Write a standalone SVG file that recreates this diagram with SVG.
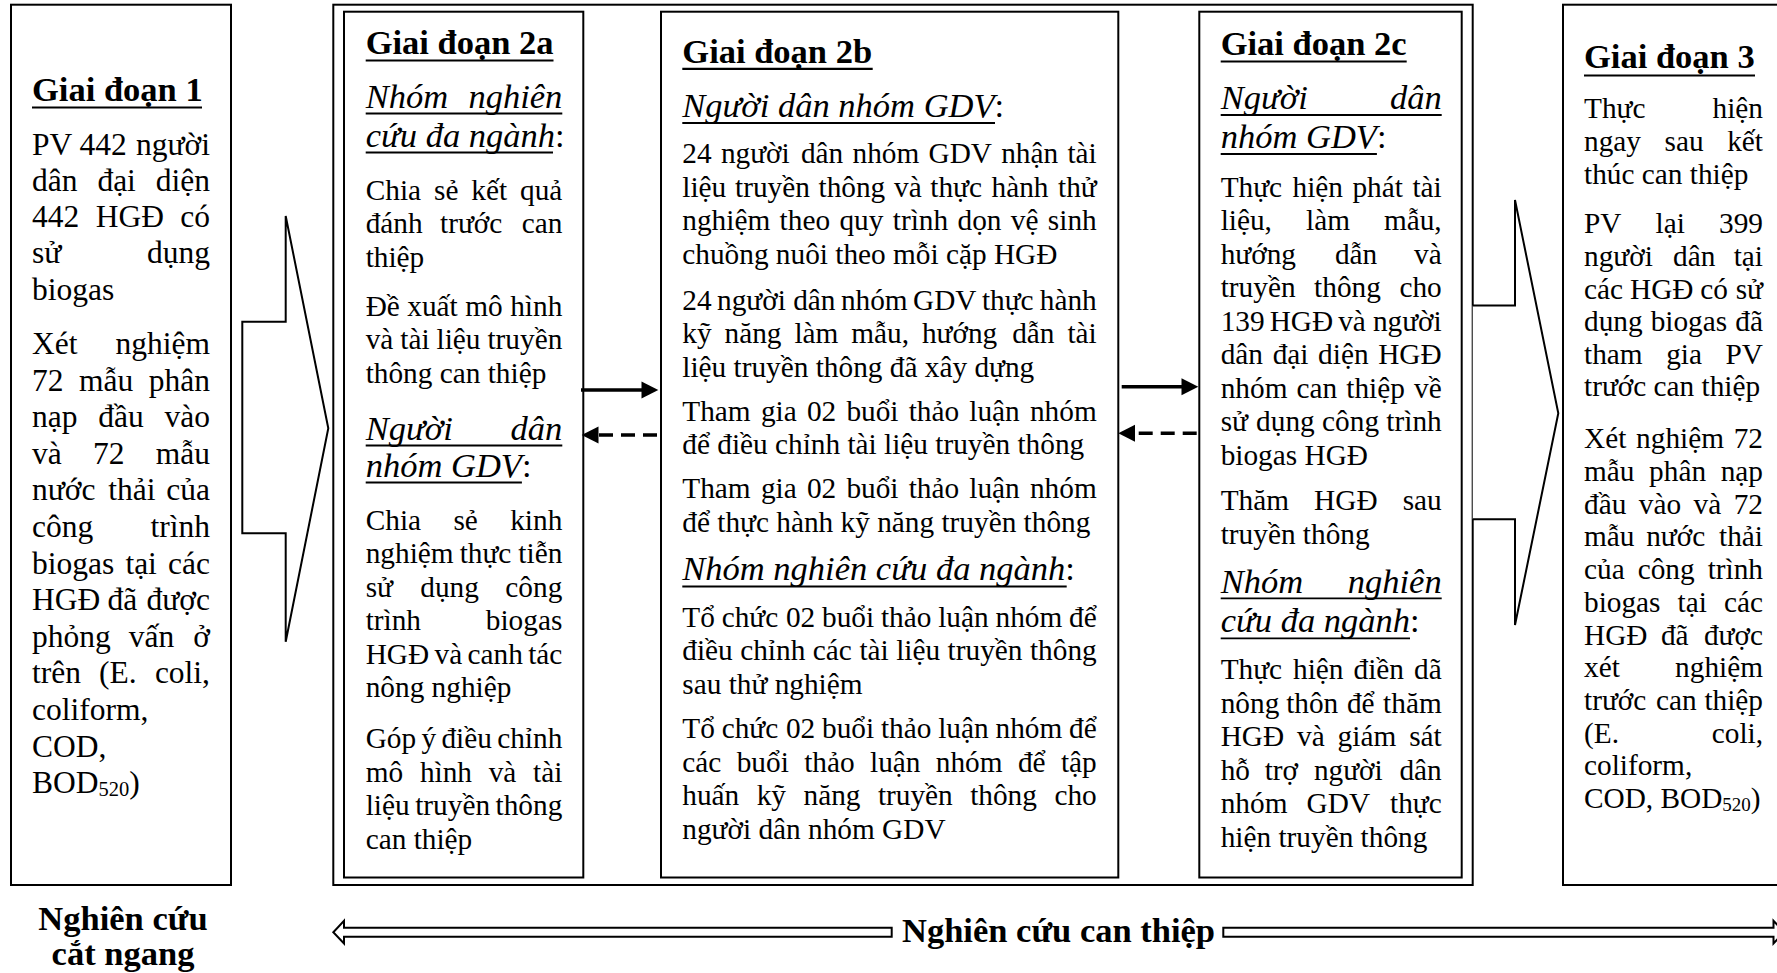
<svg xmlns="http://www.w3.org/2000/svg" width="1777" height="973" viewBox="0 0 1777 973">
  <style>
    text { font-family: "Liberation Serif", "Times New Roman", serif; fill: #000; }
    .b1 { font-size: 31.5px; }
    .b2 { font-size: 29.3px; }
    .h { font-size: 34.5px; font-weight: bold; }
    .i { font-size: 34.5px; font-style: italic; }
    .n { font-style: normal; }
    .e { text-anchor: end; }
    .c { text-anchor: middle; }
    .box { fill: #fff; stroke: #000; stroke-width: 2; }
    .ul { stroke: #000; stroke-width: 2.2; }
    .uli { stroke: #000; stroke-width: 1.8; }
    .blk { fill: #fff; stroke: #000; stroke-width: 2; stroke-linejoin: miter; }
    .sol { stroke: #000; stroke-width: 3.5; fill: none; }
    .dsh { stroke: #000; stroke-width: 3.5; fill: none; stroke-dasharray: 14 8; }
    .head { fill: #000; }
  </style>

  <!-- Stage 1: cross-sectional survey -->
  <g id="stage1">
    <rect class="box" x="11" y="4.7" width="220" height="880.3"/>
    <text class="h" x="32" y="101">Giai đoạn 1</text>
    <line class="ul" x1="32" y1="107.5" x2="202" y2="107.5"/>
    <g class="b1">
      <text y="154.5"><tspan x="32">PV</tspan><tspan x="79.4">442</tspan><tspan x="210" class="e">người</tspan></text>
      <text y="190.8"><tspan x="32">dân</tspan><tspan x="97.4">đại</tspan><tspan x="210" class="e">diện</tspan></text>
      <text y="227.1"><tspan x="32">442</tspan><tspan x="95.7">HGĐ</tspan><tspan x="210" class="e">có</tspan></text>
      <text y="263.4"><tspan x="32">sử</tspan><tspan x="210" class="e">dụng</tspan></text>
      <text y="299.7" x="32">biogas</text>
      <text y="354"><tspan x="32">Xét</tspan><tspan x="210" class="e">nghiệm</tspan></text>
      <text y="390.6"><tspan x="32">72</tspan><tspan x="79">mẫu</tspan><tspan x="210" class="e">phân</tspan></text>
      <text y="427.2"><tspan x="32">nạp</tspan><tspan x="98.3">đầu</tspan><tspan x="210" class="e">vào</tspan></text>
      <text y="463.8"><tspan x="32">và</tspan><tspan x="93">72</tspan><tspan x="210" class="e">mẫu</tspan></text>
      <text y="500.4"><tspan x="32">nước</tspan><tspan x="108.3">thải</tspan><tspan x="210" class="e">của</tspan></text>
      <text y="537"><tspan x="32">công</tspan><tspan x="210" class="e">trình</tspan></text>
      <text y="573.6"><tspan x="32">biogas</tspan><tspan x="125.4">tại</tspan><tspan x="210" class="e">các</tspan></text>
      <text y="610.2"><tspan x="32">HGĐ</tspan><tspan x="107.4">đã</tspan><tspan x="210" class="e">được</tspan></text>
      <text y="646.8"><tspan x="32">phỏng</tspan><tspan x="128.7">vấn</tspan><tspan x="210" class="e">ở</tspan></text>
      <text y="683.4"><tspan x="32">trên</tspan><tspan x="99.1">(E.</tspan><tspan x="210" class="e">coli,</tspan></text>
      <text y="720" x="32">coliform,</text>
      <text y="756.6" x="32">COD,</text>
      <text y="793.2" x="32">BOD<tspan font-size="20.5" dy="3">520</tspan><tspan dy="-3">)</tspan></text>
    </g>
  </g>

  <!-- Stage 2: intervention frame -->
  <g id="stage2">
    <rect class="box" x="333.3" y="4.7" width="1139.4" height="880.3"/>
  </g>

  <!-- Stage 2a -->
  <g id="stage2a">
    <rect class="box" x="344" y="11.7" width="239.3" height="865.8"/>
    <text class="h" x="365.7" y="54.3">Giai đoạn 2a</text>
    <line class="ul" x1="365.7" y1="60.5" x2="553.5" y2="60.5"/>
    <text class="i" y="108.3"><tspan x="365.7">Nhóm</tspan><tspan x="562.3" class="e">nghiên</tspan></text>
    <line class="uli" x1="365.7" y1="113.5" x2="562.3" y2="113.5"/>
    <text class="i" x="365.7" y="146.7">cứu đa ngành<tspan class="n">:</tspan></text>
    <line class="uli" x1="365.7" y1="152.5" x2="553" y2="152.5"/>
    <g class="b2">
      <text y="200"><tspan x="365.7">Chia</tspan><tspan x="434">sẻ</tspan><tspan x="471.3">kết</tspan><tspan x="562.3" class="e">quả</tspan></text>
      <text y="233.4"><tspan x="365.7">đánh</tspan><tspan x="440">trước</tspan><tspan x="562.3" class="e">can</tspan></text>
      <text y="266.8" x="365.7">thiệp</text>
      <text y="316"><tspan x="365.7">Đề</tspan><tspan x="407.3">xuất</tspan><tspan x="465.3">mô</tspan><tspan x="562.3" class="e">hình</tspan></text>
      <text y="349.4"><tspan x="365.7">và</tspan><tspan x="400.3">tài</tspan><tspan x="436.5">liệu</tspan><tspan x="562.3" class="e">truyền</tspan></text>
      <text y="382.8" x="365.7">thông can thiệp</text>
    </g>
    <text class="i" y="440"><tspan x="365.7">Người</tspan><tspan x="562.3" class="e">dân</tspan></text>
    <line class="uli" x1="365.7" y1="445.5" x2="562.3" y2="445.5"/>
    <text class="i" x="365.7" y="477">nhóm GDV<tspan class="n">:</tspan></text>
    <line class="uli" x1="365.7" y1="482.5" x2="521.9" y2="482.5"/>
    <g class="b2">
      <text y="530"><tspan x="365.7">Chia</tspan><tspan x="453.4">sẻ</tspan><tspan x="562.3" class="e">kinh</tspan></text>
      <text y="563.4"><tspan x="365.7">nghiệm</tspan><tspan x="459.7">thực</tspan><tspan x="562.3" class="e">tiễn</tspan></text>
      <text y="596.8"><tspan x="365.7">sử</tspan><tspan x="420.3">dụng</tspan><tspan x="562.3" class="e">công</tspan></text>
      <text y="630.2"><tspan x="365.7">trình</tspan><tspan x="562.3" class="e">biogas</tspan></text>
      <text y="663.6"><tspan x="365.7">HGĐ</tspan><tspan x="434.5">và</tspan><tspan x="467.5">canh</tspan><tspan x="562.3" class="e">tác</tspan></text>
      <text y="697" x="365.7">nông nghiệp</text>
      <text y="748.3"><tspan x="365.7">Góp</tspan><tspan x="421.5">ý</tspan><tspan x="441.4">điều</tspan><tspan x="562.3" class="e">chỉnh</tspan></text>
      <text y="781.7"><tspan x="365.7">mô</tspan><tspan x="419.9">hình</tspan><tspan x="488.7">và</tspan><tspan x="562.3" class="e">tài</tspan></text>
      <text y="815.1"><tspan x="365.7">liệu</tspan><tspan x="415.2">truyền</tspan><tspan x="562.3" class="e">thông</tspan></text>
      <text y="848.5" x="365.7">can thiệp</text>
    </g>
  </g>

  <!-- Stage 2b -->
  <g id="stage2b">
    <rect class="box" x="661" y="11.7" width="457.3" height="865.8"/>
    <text class="h" x="682.3" y="62.7">Giai đoạn 2b</text>
    <line class="ul" x1="682.3" y1="68.8" x2="872.7" y2="68.8"/>
    <text class="i" x="682.3" y="117.3">Người dân nhóm GDV<tspan class="n">:</tspan></text>
    <line class="uli" x1="682.3" y1="123" x2="995" y2="123"/>
    <g class="b2">
      <text y="163.3"><tspan x="682.3">24</tspan><tspan x="720.9">người</tspan><tspan x="800.9">dân</tspan><tspan x="852.5">nhóm</tspan><tspan x="928.5">GDV</tspan><tspan x="1001.2">nhận</tspan><tspan x="1096.7" class="e">tài</tspan></text>
      <text y="196.7"><tspan x="682.3">liệu</tspan><tspan x="735">truyền</tspan><tspan x="818.5">thông</tspan><tspan x="894">và</tspan><tspan x="930.3">thực</tspan><tspan x="991.5">hành</tspan><tspan x="1096.7" class="e">thử</tspan></text>
      <text y="230.1"><tspan x="682.3">nghiệm</tspan><tspan x="779.6">theo</tspan><tspan x="839.4">quy</tspan><tspan x="892.8">trình</tspan><tspan x="957.5">dọn</tspan><tspan x="1010.8">vệ</tspan><tspan x="1096.7" class="e">sinh</tspan></text>
      <text y="263.5" x="682.3">chuồng nuôi theo mỗi cặp HGĐ</text>
      <text y="310"><tspan x="682.3">24</tspan><tspan x="717">người</tspan><tspan x="793.2">dân</tspan><tspan x="840.9">nhóm</tspan><tspan x="913">GDV</tspan><tspan x="981.9">thực</tspan><tspan x="1096.7" class="e">hành</tspan></text>
      <text y="343.4"><tspan x="682.3">kỹ</tspan><tspan x="724.5">năng</tspan><tspan x="794.4">làm</tspan><tspan x="851.2">mẫu,</tspan><tspan x="921.9">hướng</tspan><tspan x="1012.2">dẫn</tspan><tspan x="1096.7" class="e">tài</tspan></text>
      <text y="376.8" x="682.3">liệu truyền thông đã xây dựng</text>
      <text y="420.7"><tspan x="682.3">Tham</tspan><tspan x="760.9">gia</tspan><tspan x="806.9">02</tspan><tspan x="846.4">buổi</tspan><tspan x="908.7">thảo</tspan><tspan x="969.3">luận</tspan><tspan x="1096.7" class="e">nhóm</tspan></text>
      <text y="454.1" x="682.3">để điều chỉnh tài liệu truyền thông</text>
      <text y="498.3"><tspan x="682.3">Tham</tspan><tspan x="760.9">gia</tspan><tspan x="806.9">02</tspan><tspan x="846.4">buổi</tspan><tspan x="908.7">thảo</tspan><tspan x="969.3">luận</tspan><tspan x="1096.7" class="e">nhóm</tspan></text>
      <text y="531.7" x="682.3">để thực hành kỹ năng truyền thông</text>
    </g>
    <text class="i" x="682.3" y="580">Nhóm nghiên cứu đa ngành<tspan class="n">:</tspan></text>
    <line class="uli" x1="682.3" y1="586.5" x2="1066.7" y2="586.5"/>
    <g class="b2">
      <text y="626.7"><tspan x="682.3">Tổ</tspan><tspan x="721.7">chức</tspan><tspan x="785.9">02</tspan><tspan x="822">buổi</tspan><tspan x="880.9">thảo</tspan><tspan x="938.2">luận</tspan><tspan x="995.5">nhóm</tspan><tspan x="1096.7" class="e">để</tspan></text>
      <text y="660.1"><tspan x="682.3">điều</tspan><tspan x="740.2">chỉnh</tspan><tspan x="812.8">các</tspan><tspan x="859.4">tài</tspan><tspan x="896.2">liệu</tspan><tspan x="947.6">truyền</tspan><tspan x="1096.7" class="e">thông</tspan></text>
      <text y="693.5" x="682.3">sau thử nghiệm</text>
      <text y="738.3"><tspan x="682.3">Tổ</tspan><tspan x="721.7">chức</tspan><tspan x="785.9">02</tspan><tspan x="822">buổi</tspan><tspan x="880.9">thảo</tspan><tspan x="938.2">luận</tspan><tspan x="995.5">nhóm</tspan><tspan x="1096.7" class="e">để</tspan></text>
      <text y="771.7"><tspan x="682.3">các</tspan><tspan x="736.7">buổi</tspan><tspan x="804.2">thảo</tspan><tspan x="870">luận</tspan><tspan x="935.8">nhóm</tspan><tspan x="1017.9">để</tspan><tspan x="1096.7" class="e">tập</tspan></text>
      <text y="805.1"><tspan x="682.3">huấn</tspan><tspan x="756.7">kỹ</tspan><tspan x="803.5">năng</tspan><tspan x="877.9">truyền</tspan><tspan x="970.2">thông</tspan><tspan x="1096.7" class="e">cho</tspan></text>
      <text y="838.5" x="682.3">người dân nhóm GDV</text>
    </g>
  </g>

  <!-- Stage 2c -->
  <g id="stage2c">
    <rect class="box" x="1199.3" y="11.7" width="262.4" height="865.8"/>
    <text class="h" x="1220.7" y="55">Giai đoạn 2c</text>
    <line class="ul" x1="1220.7" y1="61.5" x2="1406.7" y2="61.5"/>
    <text class="i" y="109.3"><tspan x="1220.7">Người</tspan><tspan x="1441.7" class="e">dân</tspan></text>
    <line class="uli" x1="1220.7" y1="115" x2="1441.7" y2="115"/>
    <text class="i" x="1220.7" y="148.3">nhóm GDV<tspan class="n">:</tspan></text>
    <line class="uli" x1="1220.7" y1="154" x2="1376.9" y2="154"/>
    <g class="b2">
      <text y="196.7"><tspan x="1220.7">Thực</tspan><tspan x="1292.5">hiện</tspan><tspan x="1352.4">phát</tspan><tspan x="1441.7" class="e">tài</tspan></text>
      <text y="230.2"><tspan x="1220.7">liệu,</tspan><tspan x="1306">làm</tspan><tspan x="1441.7" class="e">mẫu,</tspan></text>
      <text y="263.7"><tspan x="1220.7">hướng</tspan><tspan x="1334.9">dẫn</tspan><tspan x="1441.7" class="e">và</tspan></text>
      <text y="297.2"><tspan x="1220.7">truyền</tspan><tspan x="1314.1">thông</tspan><tspan x="1441.7" class="e">cho</tspan></text>
      <text y="330.7"><tspan x="1220.7">139</tspan><tspan x="1269.7">HGĐ</tspan><tspan x="1338.2">và</tspan><tspan x="1441.7" class="e">người</tspan></text>
      <text y="364.2"><tspan x="1220.7">dân</tspan><tspan x="1272.7">đại</tspan><tspan x="1318.1">diện</tspan><tspan x="1441.7" class="e">HGĐ</tspan></text>
      <text y="397.7"><tspan x="1220.7">nhóm</tspan><tspan x="1296.6">can</tspan><tspan x="1346.3">thiệp</tspan><tspan x="1441.7" class="e">về</tspan></text>
      <text y="431.2"><tspan x="1220.7">sử</tspan><tspan x="1256.1">dụng</tspan><tspan x="1322.1">công</tspan><tspan x="1441.7" class="e">trình</tspan></text>
      <text y="464.7" x="1220.7">biogas HGĐ</text>
      <text y="510"><tspan x="1220.7">Thăm</tspan><tspan x="1314.1">HGĐ</tspan><tspan x="1441.7" class="e">sau</tspan></text>
      <text y="543.5" x="1220.7">truyền thông</text>
    </g>
    <text class="i" y="592.7"><tspan x="1220.7">Nhóm</tspan><tspan x="1441.7" class="e">nghiên</tspan></text>
    <line class="uli" x1="1220.7" y1="598.3" x2="1441.7" y2="598.3"/>
    <text class="i" x="1220.7" y="632">cứu đa ngành<tspan class="n">:</tspan></text>
    <line class="uli" x1="1220.7" y1="638.3" x2="1410" y2="638.3"/>
    <g class="b2">
      <text y="679.3"><tspan x="1220.7">Thực</tspan><tspan x="1293">hiện</tspan><tspan x="1353.5">điền</tspan><tspan x="1441.7" class="e">dã</tspan></text>
      <text y="712.8"><tspan x="1220.7">nông</tspan><tspan x="1286.2">thôn</tspan><tspan x="1346.9">để</tspan><tspan x="1441.7" class="e">thăm</tspan></text>
      <text y="746.3"><tspan x="1220.7">HGĐ</tspan><tspan x="1297.1">và</tspan><tspan x="1337.6">giám</tspan><tspan x="1441.7" class="e">sát</tspan></text>
      <text y="779.8"><tspan x="1220.7">hỗ</tspan><tspan x="1264.7">trợ</tspan><tspan x="1313.9">người</tspan><tspan x="1441.7" class="e">dân</tspan></text>
      <text y="813.3"><tspan x="1220.7">nhóm</tspan><tspan x="1306.6">GDV</tspan><tspan x="1441.7" class="e">thực</tspan></text>
      <text y="846.8" x="1220.7">hiện truyền thông</text>
    </g>
  </g>

  <!-- Stage 3: post-intervention survey -->
  <g id="stage3">
    <rect class="box" x="1563" y="4.7" width="230" height="880.3"/>
    <text class="h" x="1584" y="68.3">Giai đoạn 3</text>
    <line class="ul" x1="1584" y1="75.5" x2="1755" y2="75.5"/>
    <g class="b2">
      <text y="118.3"><tspan x="1584">Thực</tspan><tspan x="1763" class="e">hiện</tspan></text>
      <text y="151.3"><tspan x="1584">ngay</tspan><tspan x="1664.6">sau</tspan><tspan x="1763" class="e">kết</tspan></text>
      <text y="184.3" x="1584">thúc can thiệp</text>
      <text y="233.3"><tspan x="1584">PV</tspan><tspan x="1655.6">lại</tspan><tspan x="1763" class="e">399</tspan></text>
      <text y="265.9"><tspan x="1584">người</tspan><tspan x="1673.1">dân</tspan><tspan x="1763" class="e">tại</tspan></text>
      <text y="298.5"><tspan x="1584">các</tspan><tspan x="1630">HGĐ</tspan><tspan x="1700.3">có</tspan><tspan x="1763" class="e">sử</tspan></text>
      <text y="331.1"><tspan x="1584">dụng</tspan><tspan x="1650.7">biogas</tspan><tspan x="1763" class="e">đã</tspan></text>
      <text y="363.7"><tspan x="1584">tham</tspan><tspan x="1666.2">gia</tspan><tspan x="1763" class="e">PV</tspan></text>
      <text y="396.3" x="1584">trước can thiệp</text>
      <text y="448.3"><tspan x="1584">Xét</tspan><tspan x="1636.1">nghiệm</tspan><tspan x="1763" class="e">72</tspan></text>
      <text y="481"><tspan x="1584">mẫu</tspan><tspan x="1649.1">phân</tspan><tspan x="1763" class="e">nạp</tspan></text>
      <text y="513.7"><tspan x="1584">đầu</tspan><tspan x="1638.8">vào</tspan><tspan x="1693.6">và</tspan><tspan x="1763" class="e">72</tspan></text>
      <text y="546.4"><tspan x="1584">mẫu</tspan><tspan x="1646.2">nước</tspan><tspan x="1763" class="e">thải</tspan></text>
      <text y="579.1"><tspan x="1584">của</tspan><tspan x="1637.7">công</tspan><tspan x="1763" class="e">trình</tspan></text>
      <text y="611.8"><tspan x="1584">biogas</tspan><tspan x="1677.6">tại</tspan><tspan x="1763" class="e">các</tspan></text>
      <text y="644.5"><tspan x="1584">HGĐ</tspan><tspan x="1660.9">đã</tspan><tspan x="1763" class="e">được</tspan></text>
      <text y="677.2"><tspan x="1584">xét</tspan><tspan x="1763" class="e">nghiệm</tspan></text>
      <text y="709.9"><tspan x="1584">trước</tspan><tspan x="1656">can</tspan><tspan x="1763" class="e">thiệp</tspan></text>
      <text y="742.6"><tspan x="1584">(E.</tspan><tspan x="1763" class="e">coli,</tspan></text>
      <text y="775.3" x="1584">coliform,</text>
      <text y="808" x="1584">COD, BOD<tspan font-size="19" dy="3">520</tspan><tspan dy="-3">)</tspan></text>
    </g>
  </g>

  <!-- Connectors -->
  <g id="connectors">
    <!-- block arrows between stages -->
    <path class="blk" d="M242.3,321.7 H285.7 V216 L328.3,428.3 L285.7,641.7 V533.3 H242.3 Z"/>
    <path class="blk" d="M1472.7,305.5 H1515 V200 L1558.3,413.3 L1515,625 V519.3 H1472.7"/>
    <!-- 2a <-> 2b -->
    <line class="sol" x1="581" y1="390" x2="642" y2="390"/>
    <polygon class="head" points="658.3,390 641.5,381.5 641.5,398.5"/>
    <line class="dsh" x1="657" y1="435" x2="597" y2="435"/>
    <polygon class="head" points="581.7,435 598.5,426.5 598.5,443.5"/>
    <!-- 2b <-> 2c -->
    <line class="sol" x1="1121.7" y1="386.7" x2="1182" y2="386.7"/>
    <polygon class="head" points="1198.3,386.7 1181.5,378.2 1181.5,395.2"/>
    <line class="dsh" x1="1196.7" y1="433.3" x2="1134" y2="433.3"/>
    <polygon class="head" points="1118.3,433.3 1135,424.8 1135,441.8"/>
    <!-- study-span arrows -->
    <path class="blk" d="M891.7,927.7 H344 V920.7 L333.3,932.2 L344,943.5 V936.7 H891.7 Z"/>
    <path class="blk" d="M1223.3,927.7 H1773.5 V920.7 L1784.2,932.2 L1773.5,943.5 V936.7 H1223.3 Z"/>
  </g>

  <!-- Study type labels -->
  <g id="labels">
    <text class="h c" x="123" y="930">Nghiên cứu</text>
    <text class="h c" x="123" y="964.5">cắt ngang</text>
    <text class="h" x="902" y="941.7">Nghiên cứu can thiệp</text>
  </g>
</svg>
